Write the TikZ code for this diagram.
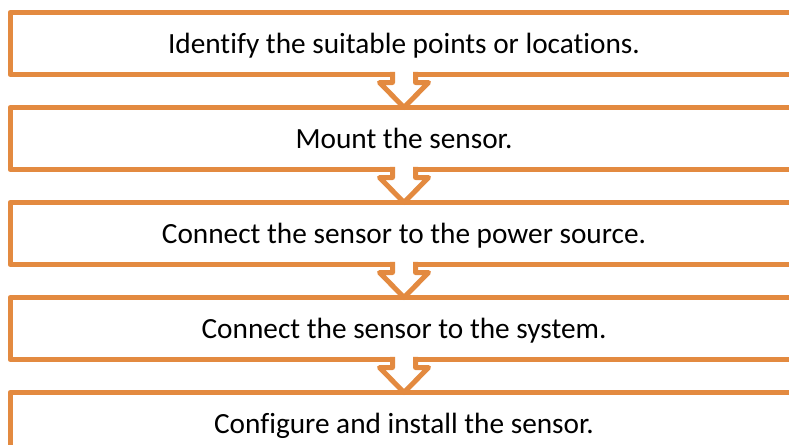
\documentclass[tikz,border=0pt]{standalone}
\usepackage{fontspec}
\setmainfont{Carlito}[Ligatures=NoCommon]
\usetikzlibrary{calc}
\definecolor{flowOrange}{RGB}{227,138,64}

% hollow block arrow from the bottom of one step to the top of the next
\newcommand\stepconnector[2]{%
  \draw[flowarrow]
    ($(#1.south)+(-11.5,-2.6)$) -- ($(#1.south)+(-11.5,8)$)
    -- ($(#1.south)+(-24.5,8)$) -- (#2.north)
    -- ($(#1.south)+(24.5,8)$) -- ($(#1.south)+(11.5,8)$)
    -- ($(#1.south)+(11.5,-2.6)$);%
}

\begin{document}
\begin{tikzpicture}[x=1pt,y=-1pt,
  stepbox/.style={draw=flowOrange, line width=5pt, line join=round,
    fill=white, minimum width=788pt, minimum height=62pt,
    inner sep=0pt, outer sep=0pt,
    font=\fontsize{29.3}{35}\selectfont, text height=19.5pt, text depth=0pt},
  flowarrow/.style={draw=flowOrange, fill=white, line width=5pt,
    line join=round}]
\useasboundingbox (0,0) rectangle (789,444);
\clip (0,0) rectangle (789,444);
\fill[white] (0,0) rectangle (789,444);

\node[stepbox] (b1) at (404,43.5)  {Identify the suitable points or locations.};
\node[stepbox] (b2) at (404,138.5) {Mount the sensor.};
\node[stepbox] (b3) at (404,233.5) {Connect the sensor to the power source.};
\node[stepbox] (b4) at (404,328.5) {Connect the sensor to the system.};
\node[stepbox] (b5) at (404,423.5) {Configure and install the sensor.};

\stepconnector{b1}{b2}
\stepconnector{b2}{b3}
\stepconnector{b3}{b4}
\stepconnector{b4}{b5}
\end{tikzpicture}
\end{document}
